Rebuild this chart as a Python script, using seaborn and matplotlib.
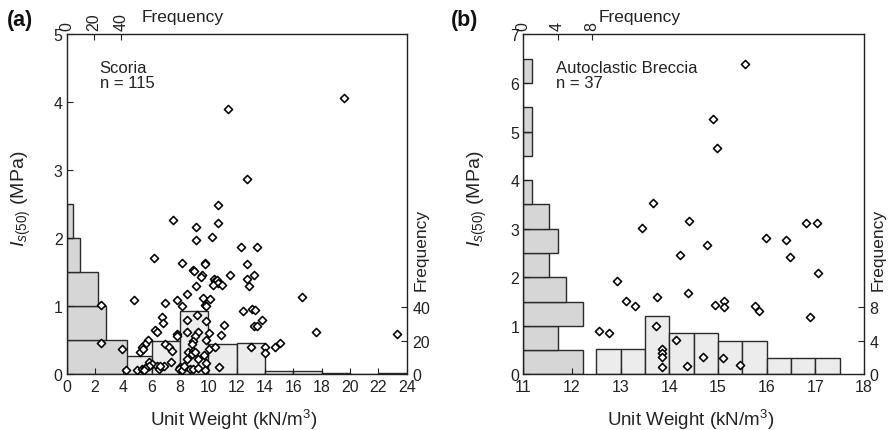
import matplotlib
matplotlib.use('Agg')
import matplotlib.pyplot as plt
import numpy as np
import pandas as pd
import seaborn as sns

sns.set_style('ticks')
plt.rcParams['font.family'] = ['Liberation Sans', 'DejaVu Sans']
plt.rcParams['mathtext.fontset'] = 'custom'
plt.rcParams['mathtext.rm'] = 'Liberation Sans'
plt.rcParams['mathtext.it'] = 'Liberation Sans:italic'
plt.rcParams['text.color'] = '#222222'

# (a) Scoria: unit weight (kN/m3) vs Is(50) (MPa)
scoria_uw = [12.75, 11.36, 19.57, 10.7, 7.5, 9.13, 10.7, 9.13, 10.25, 12.32, 13.4,
             6.18, 8.14, 9.76, 9.76, 12.75, 8.94, 8.99, 9.52, 9.45, 11.5, 12.75, 13.2,
             10.4, 10.49, 10.63, 10.7, 10.94, 10.3, 12.89, 9.13,
             8.47, 7.81, 9.6, 10.11, 6.94, 4.73, 2.4, 8.14, 9.76, 9.81,
             12.42, 13.05, 13.29, 6.7, 9.17, 8.47, 6.82, 9.83, 11.1, 13.24, 13.4,
             6.25, 6.35, 8.51, 9.24, 7.81, 7.76, 9.05, 10.07, 10.89,
             13.76, 16.6, 17.6, 23.3,
             5.76, 5.55, 5.34, 5.17, 5.36,
             6.94, 7.22, 7.46, 8.94, 8.82, 9.81, 10.07, 10.49, 2.4, 3.88, 8.54, 8.94,
             8.82, 9.05, 8.47, 9.24, 9.69, 9.83,
             5.83, 6.02, 5.83, 6.35, 6.49, 6.87, 7.38, 7.99, 7.93, 8.14, 8.7, 8.94,
             9.76, 10.77, 4.19, 4.98, 5.29, 5.53,
             13.0, 13.97, 13.97, 14.7, 15.05,
             6.6, 8.3, 9.3, 5.45]
scoria_is = [2.87, 3.91, 4.07, 2.49, 2.27, 2.17, 2.23, 1.98, 2.02, 1.88, 1.88,
             1.72, 1.64, 1.64, 1.62, 1.63, 1.53, 1.52, 1.46, 1.44, 1.47, 1.40, 1.46,
             1.41, 1.37, 1.39, 1.35, 1.32, 1.32, 1.30, 1.30,
             1.18, 1.10, 1.13, 1.11, 1.05, 1.10, 1.02, 1.00, 1.02, 1.01,
             0.93, 0.96, 0.95, 0.84, 0.87, 0.80, 0.75, 0.78, 0.73, 0.72, 0.72,
             0.66, 0.62, 0.62, 0.62, 0.60, 0.57, 0.57, 0.61, 0.58,
             0.80, 1.14, 0.63, 0.60,
             0.51, 0.45, 0.40, 0.33, 0.37,
             0.45, 0.40, 0.35, 0.49, 0.45, 0.51, 0.38, 0.40, 0.47, 0.37, 0.33, 0.35,
             0.30, 0.33, 0.23, 0.23, 0.28, 0.17,
             0.19, 0.15, 0.13, 0.13, 0.08, 0.13, 0.19, 0.11, 0.08, 0.07, 0.08, 0.08,
             0.06, 0.11, 0.07, 0.06, 0.08, 0.10,
             0.40, 0.40, 0.32, 0.40, 0.46,
             0.12, 0.12, 0.10, 0.06]
# only the visible bins of the Is(50) histogram
scoria_is_edges = [0, 0.5, 1.0, 1.5, 2.0, 2.5]
scoria_is_counts = [45, 29, 23, 10, 5]
scoria_uw_edges = [0, 2, 4, 6, 8, 10, 12, 14, 16, 18, 20, 22, 24]
scoria_uw_counts = [0, 3, 11, 20, 38, 18, 19, 2, 2, 1, 0, 1]

# (b) Autoclastic breccia
breccia_uw = [15.56, 14.90, 14.97, 13.66, 14.40, 13.43, 16.80, 17.03, 15.98, 16.39,
              14.21, 14.78, 16.47, 17.06, 13.75, 14.39, 14.93, 15.12, 15.12, 15.75,
              15.84, 16.89, 13.72, 14.14, 13.84, 13.84, 13.84, 13.84, 14.70, 15.10,
              14.36, 15.45, 12.92, 13.11, 13.30, 12.56, 12.77]
breccia_is = [6.39, 5.25, 4.66, 3.53, 3.17, 3.02, 3.12, 3.12, 2.82, 2.77,
              2.47, 2.67, 2.41, 2.08, 1.60, 1.68, 1.43, 1.51, 1.38, 1.40,
              1.31, 1.18, 1.00, 0.70, 0.52, 0.44, 0.35, 0.15, 0.35, 0.34,
              0.17, 0.19, 1.93, 1.52, 1.42, 0.90, 0.85]
breccia_is_edges = [0, 0.5, 1.0, 1.5, 2.0, 2.5, 3.0, 3.5, 4.0, 4.5, 5.0, 5.5, 6.0, 6.5]
breccia_is_counts = [7, 4, 7, 5, 3, 4, 3, 1, 0, 1, 1, 0, 1]
breccia_uw_edges = [12.5, 13.0, 13.5, 14.0, 14.5, 15.0, 15.5, 16.0, 16.5, 17.0, 17.5]
breccia_uw_counts = [3, 3, 7, 5, 5, 4, 4, 2, 2, 2]

panels = [
    dict(tag='(a)', name='Scoria\nn = 115', uw=scoria_uw, isv=scoria_is,
         is_edges=scoria_is_edges, is_counts=scoria_is_counts,
         uw_edges=scoria_uw_edges, uw_counts=scoria_uw_counts,
         xlim=(0, 24), xticks=np.arange(0, 25, 2), ylim=(0, 5), yticks=np.arange(0, 6),
         ftop=252, fright=203, fticks=[0, 20, 40],
         rect=[0.0748, 0.1288, 0.3812, 0.7889], tagx=0.008),
    dict(tag='(b)', name='Autoclastic Breccia\nn = 37', uw=breccia_uw, isv=breccia_is,
         is_edges=breccia_is_edges, is_counts=breccia_is_counts,
         uw_edges=breccia_uw_edges, uw_counts=breccia_uw_counts,
         xlim=(11, 18), xticks=np.arange(11, 19), ylim=(0, 7), yticks=np.arange(0, 8),
         ftop=39.8, fright=40.6, fticks=[0, 4, 8],
         rect=[0.5867, 0.1288, 0.3820, 0.7889], tagx=0.505),
]

ink = '#222222'
fig = plt.figure(figsize=(8.92, 4.31), dpi=100)

for p in panels:
    ax = fig.add_axes(p['rect'])
    axr = ax.twinx()   # frequency of unit weight (vertical bars)
    axt = ax.twiny()   # frequency of Is(50) (horizontal bars)

    mids = [(a + b) / 2 for a, b in zip(p['uw_edges'][:-1], p['uw_edges'][1:])]
    df_uw = pd.DataFrame({'mid': mids, 'n': p['uw_counts']})
    sns.histplot(data=df_uw, x='mid', weights='n', bins=p['uw_edges'], ax=axr,
                 color='#ececec', edgecolor='#2a2a2a', linewidth=1.0, alpha=1)

    mids = [(a + b) / 2 for a, b in zip(p['is_edges'][:-1], p['is_edges'][1:])]
    df_is = pd.DataFrame({'mid': mids, 'n': p['is_counts']})
    sns.histplot(data=df_is, y='mid', weights='n', bins=p['is_edges'], ax=axt,
                 color='#d6d6d6', edgecolor='#2a2a2a', linewidth=1.0, alpha=1)

    sns.scatterplot(x=p['uw'], y=p['isv'], ax=ax, marker='D', s=17,
                    color='white', edgecolor='black', linewidth=1.15, zorder=5)

    ax.set_zorder(3)
    ax.patch.set_visible(False)

    ax.set_xlim(p['xlim'])
    ax.set_ylim(p['ylim'])
    ax.set_xticks(p['xticks'])
    ax.set_yticks(p['yticks'])
    ax.tick_params(direction='in', length=4, width=0.8, colors=ink, labelsize=11.5,
                   top=False, right=False, pad=3)
    for s in ax.spines.values():
        s.set_color(ink)
        s.set_linewidth(1.0)
    ax.set_xlabel('Unit Weight (kN/m$^3$)', fontsize=13.5, color=ink)
    ax.xaxis.set_label_coords(0.49, -0.095)
    ax.set_ylabel(r'$I_{\mathit{s(50)}}$ (MPa)', fontsize=14, color=ink)
    ax.yaxis.set_label_coords(-0.10, 0.52)

    axr.set_ylim(0, p['fright'])
    axr.set_xlim(p['xlim'])
    axr.set_yticks(p['fticks'])
    axr.tick_params(direction='in', length=4, width=0.8, colors=ink, labelsize=11.5, pad=4)
    axr.set_ylabel('Frequency', fontsize=12.5, color=ink)
    axr.yaxis.set_label_coords(1.02, 0.37)

    axt.set_xlim(0, p['ftop'])
    axt.set_ylim(p['ylim'])
    axt.set_xticks(p['fticks'])
    axt.tick_params(axis='x', direction='in', length=4, width=0.8, colors=ink,
                    labelsize=11.5, labelrotation=90, pad=3)
    axt.set_xlabel('')
    axt.set_ylabel('')
    for a in (axr, axt):
        for s in a.spines.values():
            s.set_visible(False)

    ax.text(0.2215, 1.054, 'Frequency', transform=ax.transAxes, ha='left',
            va='center', fontsize=12.5, color=ink)
    ax.text(0.097, 0.925, p['name'], transform=ax.transAxes, ha='left', va='top',
            fontsize=12, color=ink, linespacing=1.0)
    fig.text(p['tagx'], 0.953, p['tag'], fontsize=15.5, fontweight='bold',
             ha='left', va='center', color='#111111')

fig.savefig('out.png', dpi=100)
